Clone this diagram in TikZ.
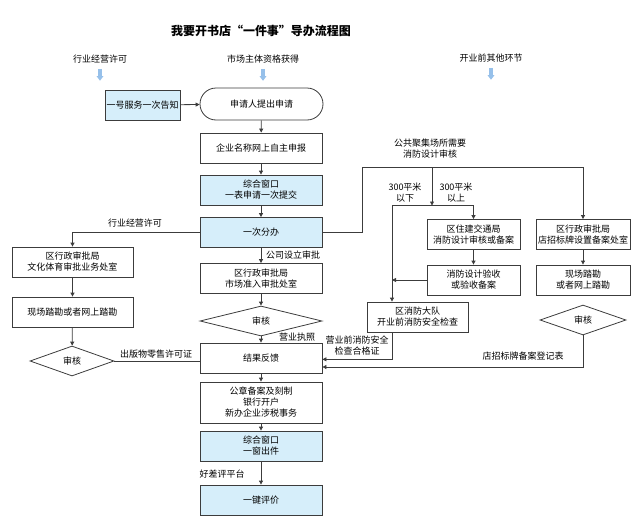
\documentclass[tikz,border=0pt]{standalone}
\usepackage{fontspec}
\setmainfont{Noto Sans CJK SC}
\usepackage{tikz}
\usepackage{xcolor}
\usetikzlibrary{arrows.meta,shapes.geometric}
\definecolor{boxblue}{RGB}{214,238,250}
\definecolor{headblue}{RGB}{150,192,234}
\definecolor{linec}{RGB}{60,60,60}

\begin{document}
\begin{tikzpicture}[x=0.75pt,y=-0.75pt,
  txt/.style={font=\fontsize{6.75}{8.25}\selectfont},
  box/.style={draw=linec,line width=0.6pt,txt,align=center,inner sep=1pt,minimum width=91.5pt,minimum height=22.5pt},
  bluebox/.style={box,fill=boxblue},
  roundbox/.style={box,rounded corners=12pt,minimum width=92.25pt,minimum height=24pt},
  check/.style={diamond,draw=linec,line width=0.6pt,txt,inner sep=0pt,aspect=4,minimum width=91.5pt,minimum height=22.5pt},
  lbl/.style={txt,align=center,inner sep=1pt},
  head/.style={txt,inner sep=1pt},
  line/.style={draw=linec,line width=0.6pt},
  flow/.style={line,-{Triangle[width=3pt,length=3pt]}},
  hdarrow/.style={draw=headblue,line width=3pt,-{Triangle[width=5pt,length=3.5pt]}}]
\useasboundingbox (0,0) rectangle (640,525);
\node[inner sep=1pt,font=\fontsize{9}{11}\selectfont\bfseries] (title) at (261,31) {我要开书店“一件事”导办流程图};
\node[head] (hLicence) at (100,59) {行业经营许可};
\node[head] (hMarket) at (263,59) {市场主体资格获得};
\node[head] (hOther) at (491,58) {开业前其他环节};
\draw[hdarrow] ([yshift=-3pt]hLicence.south) -- ++(0,12);
\draw[hdarrow] ([yshift=-3pt]hMarket.south) -- ++(0,12);
\draw[hdarrow] ([yshift=-3pt]hOther.south) -- ++(0,12);

\node[roundbox] (apply) at (261.5,104) {申请人提出申请};
\node[bluebox,minimum width=56.25pt] (notify) at (142.5,105) {一号服务一次告知};
\node[box] (name) at (261,148) {企业名称网上自主申报};
\node[bluebox] (window1) at (261,190) {综合窗口\\一表申请一次提交};
\node[bluebox] (dispatch) at (261,232.5) {一次分办};
\node[box] (market) at (261,278.5) {区行政审批局\\市场准入审批处室};
\node[check] (audit1) at (261,321) {审核};
\node[box] (result) at (261,358) {结果反馈};
\node[box,minimum height=30.75pt] (seal) at (261,402.5) {公章备案及刻制\\银行开户\\新办企业涉税事务};
\node[bluebox] (window2) at (261,446) {综合窗口\\一窗出件};
\node[bluebox] (rate) at (261,500) {一键评价};

\node[box,minimum width=90.75pt] (culture) at (72.5,262) {区行政审批局\\文化体育审批业务处室};
\node[box,minimum width=90.75pt] (survey1) at (72.5,312) {现场踏勘或者网上踏勘};
\node[check,minimum width=63pt] (audit2) at (72,361) {审核};

\node[box,minimum width=69.75pt] (housing) at (473.5,234.5) {区住建交通局\\消防设计审核或备案};
\node[box,minimum width=70.5pt] (signboard) at (583,234.5) {区行政审批局\\店招标牌设置备案处室};
\node[box,minimum width=69.75pt] (accept) at (473.5,280) {消防设计验收\\或验收备案};
\node[box,minimum width=70.5pt] (survey2) at (583,280) {现场踏勘\\或者网上踏勘};
\node[box,minimum width=75.75pt] (brigade) at (417.5,317) {区消防大队\\开业前消防安全检查};
\node[check,minimum width=64.5pt] (audit3) at (583,320) {审核};

\coordinate (fireLeft) at (362,167);
\coordinate (fireMid) at (432,167);
\coordinate (areaLeft) at (392,205.5);
\coordinate (areaMid) at (432,205.5);

\draw[flow] (notify) -- (apply);
\draw[flow] (apply) -- (name);
\draw[flow] (name) -- (window1);
\draw[flow] (window1) -- (dispatch);
\draw[flow] (dispatch) -- (market);
\draw[flow] (market) -- (audit1);
\draw[flow] (audit1) -- (result);
\draw[flow] (result) -- (seal);
\draw[flow] (seal) -- (window2);
\draw[flow] (window2) -- (rate);

\draw[flow] (dispatch.west) -| (culture.north);
\draw[flow] (culture) -- (survey1);
\draw[flow] (survey1) -- (audit2);
\draw[line] (audit2.east) -- (audit2.east -| result.west);

\draw[flow] (dispatch.east) -| (fireLeft) -| (signboard.north);
\draw[flow] (fireMid) -- (areaMid);
\draw[flow] (areaLeft) -| (housing.north);
\draw[flow] (areaLeft) -- (areaLeft |- brigade.north);
\draw[flow] (housing) -- (accept);
\draw[flow] (accept.west) -- (areaLeft |- accept.west);
\draw[flow] (areaLeft |- brigade.south) |- ([yshift=-1pt]result.east);
\draw[flow] (signboard) -- (survey2);
\draw[flow] (audit3.south) |- ([yshift=-6.75pt]result.east);

\node[lbl] (lLicence) at (135,223) {行业经营许可};
\node[lbl] (lCompany) at (293,255) {公司设立审批};
\node[lbl] (lPermit) at (297,337) {营业执照};
\node[lbl] (lRetail) at (156,354) {出版物零售许可证};
\node[lbl] (lPublic) at (430,149) {公共聚集场所需要\\消防设计审核};
\node[lbl] (lSmall) at (405,193) {300平米\\以下};
\node[lbl] (lLarge) at (456,193) {300平米\\以上};
\node[lbl] (lFireCert) at (357,346) {营业前消防安全\\检查合格证};
\node[lbl] (lSign) at (523,356) {店招标牌备案登记表};
\node[lbl] (lRate) at (222,474) {好差评平台};
\end{tikzpicture}
\end{document}
